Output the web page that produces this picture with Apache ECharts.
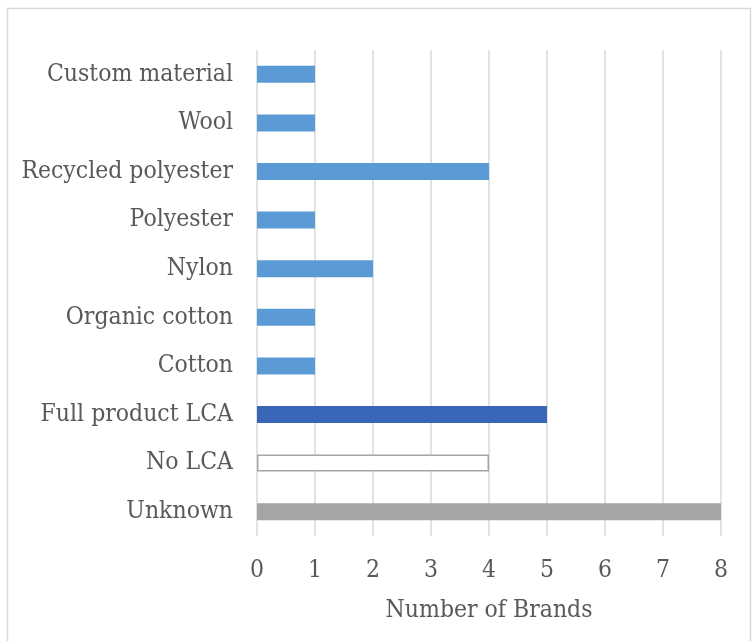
<!DOCTYPE html>
<html><head><meta charset="utf-8">
<script src="https://cdn.jsdelivr.net/npm/echarts@6/dist/echarts.min.js"></script>
<style>html,body{margin:0;padding:0;background:#fff}#c{width:752px;height:641px}</style>
</head><body><div id="c"></div>
<script>
const categories = ["Unknown","No LCA","Full product LCA","Cotton","Organic cotton","Nylon","Polyester","Recycled polyester","Wool","Custom material"];
const values = [8,4,5,1,1,2,1,4,1,1];
const fillColors = ["#a5a5a5","#ffffff","#3a66b8","#5b9bd5","#5b9bd5","#5b9bd5","#5b9bd5","#5b9bd5","#5b9bd5","#5b9bd5"];
const borderColors = ["#a5a5a5","#a5a5a5","#3a66b8","#5b9bd5","#5b9bd5","#5b9bd5","#5b9bd5","#5b9bd5","#5b9bd5","#5b9bd5"];
const xTicks = [0,1,2,3,4,5,6,7,8];

const font = "DejaVu Serif Condensed";
const chart = echarts.init(document.getElementById('c'));
chart.setOption({
  animation:false,
  backgroundColor:'#fff',
  graphic:[{type:'rect',shape:{x:7.5,y:8.5,width:743,height:700},style:{fill:'none',stroke:'#d9d9d9',lineWidth:1.5},silent:true}],
  grid:{left:257,right:31,top:50,bottom:105,containLabel:false},
  xAxis:{type:'value',min:xTicks[0],max:xTicks[xTicks.length-1],interval:1,
    name:'Number of Brands',nameLocation:'middle',nameGap:62,
    nameTextStyle:{fontFamily:font,fontSize:24.5,color:'#595959'},
    axisLine:{show:false},axisTick:{show:false},
    axisLabel:{fontFamily:font,fontSize:24.5,color:'#595959',margin:22},
    splitLine:{show:true,lineStyle:{color:'#d9d9d9',width:1.5}}},
  yAxis:{type:'category',data:categories,
    axisLine:{show:false},axisTick:{show:false},
    axisLabel:{fontFamily:font,fontSize:24.5,color:'#595959',margin:24},
    splitLine:{show:false}},
  series:[{type:'bar',barWidth:'35%',
    data:values.map((v,i)=>({value:v,itemStyle:{color:fillColors[i],borderColor:borderColors[i],borderWidth:i===1?1.5:0}}))}]
});
</script></body></html>
